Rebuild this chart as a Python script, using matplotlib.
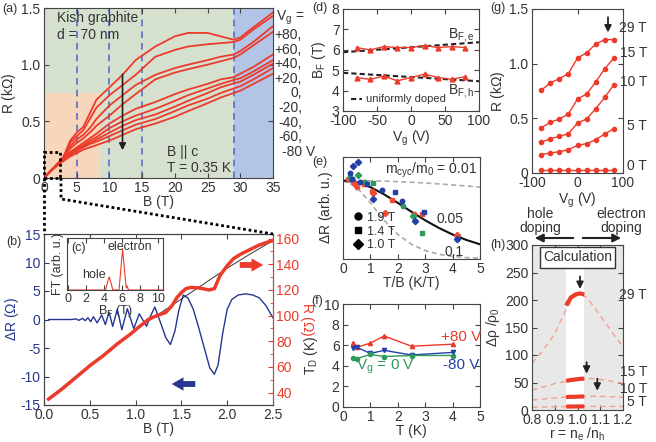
import numpy as np
import matplotlib
matplotlib.use('Agg')
import matplotlib.pyplot as plt
from matplotlib.lines import Line2D
from matplotlib.patches import Rectangle, FancyArrowPatch

plt.rcParams['font.family'] = ['Liberation Sans', 'DejaVu Sans']
plt.rcParams['font.size'] = 10
plt.rcParams['mathtext.default'] = 'regular'
plt.rcParams['axes.unicode_minus'] = False
plt.rcParams['xtick.direction'] = 'in'
plt.rcParams['ytick.direction'] = 'in'
plt.rcParams['xtick.top'] = True
plt.rcParams['ytick.right'] = True
plt.rcParams['xtick.major.pad'] = 2.5
plt.rcParams['ytick.major.pad'] = 2.5
plt.rcParams['axes.linewidth'] = 0.8
plt.rcParams['axes.edgecolor'] = '#444444'
plt.rcParams['text.color'] = '#333333'
plt.rcParams['axes.labelcolor'] = '#333333'
plt.rcParams['xtick.color'] = '#444444'
plt.rcParams['ytick.color'] = '#444444'
plt.rcParams['xtick.labelcolor'] = '#333333'
plt.rcParams['ytick.labelcolor'] = '#333333'

# ---- (a) R vs B for gate voltages +80 ... -80 V
B_a = [0, 1, 2, 3, 4, 5, 6, 7, 8, 10, 12, 14, 17, 20, 22, 25, 27, 29, 30, 32, 35]
R_a = [
    [0, .06, .12, .19, .33, .40, .45, .57, .69, .80, .91, 1.04, 1.16, 1.25, 1.28, 1.28, 1.25, 1.22, 1.24, 1.33, 1.46],
    [0, .06, .12, .19, .31, .37, .42, .52, .62, .73, .82, .91, 1.07, 1.13, 1.16, 1.18, 1.19, 1.20, 1.22, 1.31, 1.43],
    [0, .06, .12, .18, .28, .34, .38, .44, .52, .64, .73, .82, .91, .97, 1.00, 1.04, 1.07, 1.09, 1.12, 1.20, 1.34],
    [0, .06, .12, .18, .26, .31, .35, .40, .46, .55, .65, .74, .87, .93, .96, 1.00, 1.03, 1.06, 1.09, 1.17, 1.29],
    [0, .06, .12, .17, .23, .27, .31, .35, .39, .48, .55, .61, .67, .74, .78, .83, .87, .89, .92, .98, 1.09],
    [0, .06, .11, .17, .22, .26, .29, .33, .36, .44, .50, .55, .61, .68, .73, .79, .83, .865, .88, .94, 1.04],
    [0, .06, .11, .16, .21, .25, .28, .31, .34, .40, .46, .51, .56, .63, .68, .75, .80, .835, .85, .91, 1.01],
    [0, .06, .11, .16, .20, .24, .27, .30, .32, .37, .42, .47, .52, .59, .64, .70, .75, .79, .81, .87, .97],
    [0, .06, .11, .15, .19, .22, .25, .27, .29, .33, .38, .43, .48, .54, .59, .66, .71, .75, .77, .83, .92],
]
vg_labels = ['+80,', '+60,', '+40,', '+20,', '0,', '-20,', '-40,', '-60,']

# ---- (b) oscillations
B_osc = [0.05, 0.30, 0.35, 0.38, 0.42, 0.45, 0.48, 0.51, 0.54, 0.58, 0.63, 0.67, 0.71, 0.75, 0.80,
         0.85, 0.91, 0.98, 1.04, 1.12, 1.16, 1.21, 1.28, 1.33, 1.38, 1.43, 1.47, 1.52, 1.57, 1.63,
         1.69, 1.75, 1.81, 1.86, 1.90, 1.95, 2.00, 2.05, 2.12, 2.20, 2.28, 2.35, 2.42, 2.50]
dR_osc = [0, 0, 0.1, -0.15, 0.2, -0.2, 0.3, -0.4, 0.5, -0.6, 0.8, -0.9, 1.3, -1.2, 1.8,
          -1.8, 1.9, -1.6, 1.0, -1.2, 0.5, 2.2, -0.9, -3.2, -4.4, -2.0, 1.5, 4.3, 3.8, 1.8,
          -1.5, -5.0, -8.5, -9.6, -8.0, -2.5, 1.8, 3.5, 4.3, 4.5, 4.3, 3.8, 2.5, 0.3]
B_R = [0.05, 0.2, 0.35, 0.5, 0.65, 0.8, 0.95, 1.05, 1.15, 1.25, 1.33, 1.4, 1.45, 1.5, 1.55, 1.6,
       1.7, 1.8, 1.86, 1.92, 2.0, 2.07, 2.15, 2.25, 2.35, 2.43, 2.5]
R_b = [35, 43, 52, 61, 69, 78, 86, 92, 97.5, 100.5, 102.5, 108, 114, 118, 121, 122,
       121.5, 120, 121, 131, 139, 144.5, 148, 151.5, 155, 157, 158.5]
B_bg = [0.05, 0.25, 0.5, 0.75, 1.0, 1.25, 1.5, 1.75, 2.0, 2.25, 2.5]
R_bg = [35.5, 47, 61, 75, 89, 101, 113, 125, 137, 148, 158.5]

# ---- (c) Fourier transform
BF_c = [0, 4.2, 4.4, 4.6, 4.8, 5.0, 5.7, 5.9, 6.1, 6.3, 6.5, 6.6, 6.75, 10.6]
FT_c = [0, 0, 0.14, 0.25, 0.14, 0, 0, 0.4, 0.78, 0.4, 0.04, 0.08, 0, 0]

# ---- (d) Fermi fields vs gate
Vg = [-80, -60, -40, -20, 0, 20, 40, 60, 80]
BF_e = [6.11, 5.99, 6.16, 6.11, 6.11, 6.21, 6.11, 6.16, 6.11]
BF_h = [4.64, 4.55, 4.71, 4.48, 4.64, 4.81, 4.64, 4.55, 4.69]
uni_e = [5.88, 6.37]
uni_h = [4.87, 4.46]

# ---- (e) amplitude vs T/B
tb = [0, 0.5, 1, 1.5, 2, 2.5, 3, 3.5, 4, 4.5, 5]
m001 = [1, 0.999, 0.996, 0.992, 0.986, 0.978, 0.968, 0.957, 0.944, 0.931, 0.916]
m005 = [1, 0.978, 0.916, 0.824, 0.715, 0.602, 0.493, 0.396, 0.312, 0.243, 0.187]
m01 = [1, 0.916, 0.715, 0.493, 0.312, 0.187, 0.107, 0.060, 0.033, 0.018, 0.010]
red_e = [(0.2, 1.02, 'o'), (0.35, 1.0, 's'), (0.45, 0.95, 'D'), (0.5, 0.92, 'o'), (0.75, 0.96, 's'),
         (1.05, 0.87, 'o'), (1.1, 0.84, 'D'), (1.55, 0.59, 'D'), (1.8, 0.75, 's'), (2.6, 0.57, 'o'),
         (2.87, 0.57, 's'), (4.15, 0.3, 'D')]
green_e = [(0.26, 1.05, 's'), (0.56, 1.07, 'D'), (0.8, 0.98, 'o'), (1.11, 0.97, 's'), (2.2, 0.68, 'o'),
           (2.55, 0.55, 'D'), (2.87, 0.33, 's'), (4.15, 0.25, 'o')]
blue_e = [(0.38, 1.19, 'D'), (0.56, 1.23, 'D'), (0.26, 1.09, 'o'), (0.32, 1.02, 's'), (0.62, 0.98, 'o'),
          (0.86, 0.96, 's'), (1.11, 0.77, 'D'), (1.41, 0.88, 'o'), (1.9, 0.85, 's'), (2.14, 0.74, 'o'),
          (2.63, 0.48, 'D'), (2.94, 0.6, 's'), (4.15, 0.26, 'D')]

# ---- (f) Dingle temperature
T_f = [0.35, 0.5, 1.0, 1.5, 2.5, 4.0]
TD_p80 = [6.2, 5.8, 6.2, 6.9, 5.9, 6.1]
TD_m80 = [5.7, 5.8, 5.2, 5.5, 5.05, 5.3]
TD_0 = [4.8, 4.7, 5.1, 4.9, 5.0, 5.0]

# ---- (g) R vs Vg at fixed B
R_g = {
    '29 T': [0.756, 0.823, 0.863, 0.909, 1.052, 1.098, 1.180, 1.220, 1.220],
    '15 T': [0.412, 0.463, 0.494, 0.540, 0.677, 0.723, 0.832, 0.954, 1.052],
    '10 T': [0.280, 0.314, 0.335, 0.360, 0.457, 0.494, 0.588, 0.692, 0.808],
    '5 T': [0.168, 0.183, 0.195, 0.213, 0.253, 0.268, 0.305, 0.357, 0.405],
    '0 T': [0.03, 0.03, 0.03, 0.03, 0.03, 0.03, 0.03, 0.03, 0.03],
}

# ---- (h) calculation
r_h = [0.8, 0.85, 0.9, 0.95, 0.98, 1.01, 1.04, 1.08, 1.12, 1.16, 1.2]
calc_h = {
    '29 T': [85, 109, 139, 183, 203, 211, 205, 183, 160, 137, 115],
    '15 T': [36, 42, 48, 52, 55, 57, 57.6, 56.5, 54.5, 51.5, 48.5],
    '10 T': [18, 20, 22, 23.5, 24, 24.5, 25, 25, 24.5, 24, 23],
    '5 T': [5, 5.5, 6, 6.2, 6.4, 6.5, 6.5, 6.5, 6.5, 6.5, 6.5],
}
r_solid = [0.95, 0.97, 0.99, 1.01, 1.03]
solid_h = {
    '29 T': [190, 204, 210, 212, 210],
    '15 T': [53, 54.5, 55.5, 56.5, 57],
    '10 T': [23.5, 24, 24, 24.5, 24.5],
    '5 T': [6.2, 6.3, 6.4, 6.5, 6.5],
}

RED = '#ec3b2b'
NAVY = '#27368f'
GREEN = '#2f9a5c'
BLUE = '#2440a8'
DARK = '#333333'

W, H = 656, 442
fig = plt.figure(figsize=(W / 100, H / 100), dpi=100)


def box(x0, y0, x1, y1):
    return [x0 / W, 1 - y1 / H, (x1 - x0) / W, (y1 - y0) / H]


def fp(x, y):
    return (x / W, 1 - y / H)


def fig_arrow(p0, p1, color, style='-|>', lw=1.5):
    fig.add_artist(FancyArrowPatch(fp(*p0), fp(*p1), transform=fig.transFigure,
                                   arrowstyle=style, mutation_scale=12, lw=lw, color=color))


# ================= (a)
ax = fig.add_axes(box(44, 8, 273, 178))
ax.axvspan(0, 29, color='#d6e0cf', lw=0, zorder=0)
ax.axvspan(29, 35, color='#b3c5e6', lw=0, zorder=0)
ax.add_patch(Rectangle((0, 0), 8.5, 0.75, color='#f8d6bb', lw=0, zorder=0))
for b in [0, 5, 10, 15, 29]:
    ax.axvline(b, color='#5a6ec4', ls=(0, (4, 3)), lw=1.2, zorder=1)
for R in R_a:
    ax.plot(B_a, R, color=RED, lw=1.3, zorder=2)
ax.add_patch(Rectangle((0, 0), 2.5, 0.23, fill=False, ec='k', ls=(0, (1, 1)), lw=2, zorder=3,
                       clip_on=False))
ax.annotate('', xy=(12, 0.22), xytext=(12, 0.94),
            arrowprops=dict(arrowstyle='-|>', color='#222222', lw=1.2, mutation_scale=10))
ax.text(2, 1.47, 'Kish graphite\nd = 70 nm', va='top', fontsize=10)
ax.text(18.8, 0.29, 'B || c\nT = 0.35 K', va='top', fontsize=10)
ax.set_xlim(0, 35)
ax.set_ylim(0, 1.5)
ax.set_xticks(range(0, 36, 5))
ax.set_yticks([0, 0.5, 1.0, 1.5])
ax.set_yticklabels(['0', '0.5', '1.0', '1.5'])
ax.set_xlabel('B (T)', labelpad=0)
ax.set_ylabel('R (k$\\Omega$)', labelpad=2)

fig.text(*fp(276, 18), '$V_g$ =', va='center', ha='left')
for i, lab in enumerate(vg_labels):
    fig.text(*fp(302, 35 + i * 14.6), lab, va='center', ha='right')
fig.text(*fp(282, 152), '-80 V', va='center', ha='left')

# dotted connectors from zoom box to panel (b)
fig.add_artist(Line2D([44 / W, 44 / W], [1 - 178 / H, 1 - 234 / H], color='k', ls=(0, (1, 1)), lw=2))
fig.add_artist(Line2D([61 / W, 61 / W, 273 / W], [1 - 178 / H, 1 - 199 / H, 1 - 234 / H],
                      color='k', ls=(0, (1, 1)), lw=2))

# ================= (b)
axb = fig.add_axes(box(44, 234, 273, 405))
axb.plot(B_osc, dR_osc, color=NAVY, lw=1)
axb.set_xlim(0, 2.5)
axb.set_ylim(-15, 15)
axb.set_xticks([0, 0.5, 1.0, 1.5, 2.0, 2.5])
axb.set_xticklabels(['0.0', '0.5', '1.0', '1.5', '2.0', '2.5'])
axb.set_yticks(range(-15, 16, 5))
axb.tick_params(axis='y', colors=NAVY, labelcolor=NAVY, right=False)
axb.spines['left'].set_color(NAVY)
axb.set_xlabel('B (T)', labelpad=0)
axb.set_ylabel('$\\Delta$R ($\\Omega$)', color=NAVY, labelpad=0)

axb2 = axb.twinx()
axb2.plot(B_bg, R_bg, color=DARK, lw=0.7)
axb2.plot(B_R, R_b, color=RED, lw=2.5)
axb2.set_ylim(30.4, 163.6)
axb2.set_yticks(range(40, 161, 20))
axb2.set_yticks(range(40, 161, 10), minor=True)
axb2.tick_params(axis='y', which='both', colors=RED, labelcolor=RED, direction='in')
axb2.spines['right'].set_color(RED)
axb2.set_ylabel('R ($\\Omega$)', color=RED, rotation=270, labelpad=12)

simple = 'simple,head_length=0.7,head_width=0.8,tail_width=0.35'
fig_arrow((237, 265), (266, 265), RED, style=simple, lw=0)
fig_arrow((198, 384), (169, 384), NAVY, style=simple, lw=0)

# ================= (c) inset
axc = fig.add_axes(box(67, 238, 163, 290))
axc.plot(BF_c, FT_c, color=RED, lw=0.8)
axc.set_xlim(-0.1, 10.6)
axc.set_ylim(0, 1)
axc.set_xticks(range(0, 11, 2))
axc.set_yticks([])
axc.tick_params(labelsize=9, pad=2)
axc.set_xlabel('$B_F$ (T)', fontsize=9, labelpad=-1)
axc.set_ylabel('FT (arb. u.)', fontsize=9, labelpad=2)
axc.text(6.9, 0.82, 'electron', ha='center', va='center', fontsize=9)
axc.text(2.9, 0.29, 'hole', ha='center', va='center', fontsize=9)
axc.text(0.4, 0.8, '(c)', fontsize=9, va='center')

# ================= (d)
axd = fig.add_axes(box(343, 9, 479, 111))
axd.plot([-100, 100], uni_e, color='#222222', ls=(0, (2.5, 1.5)), lw=1.5)
axd.plot([-100, 100], uni_h, color='#222222', ls=(0, (2.5, 1.5)), lw=1.5)
axd.plot(Vg, BF_e, color=RED, marker='^', ms=3.5, lw=1)
axd.plot(Vg, BF_h, color=RED, marker='^', ms=3.5, lw=1)
axd.plot([-88, -72], [3.6, 3.6], color='#222222', ls=(0, (2.5, 1.5)), lw=1.5)
axd.text(-66, 3.6, 'uniformly doped', fontsize=8, va='center')
axd.text(55, 6.75, '$B_{F,e}$', fontsize=10, va='center')
axd.text(55, 4.0, '$B_{F,h}$', fontsize=10, va='center')
axd.set_xlim(-100, 100)
axd.set_ylim(3, 8)
axd.set_xticks([-100, -50, 0, 50, 100])
axd.set_yticks(range(3, 9))
axd.set_xlabel('$V_g$ (V)', labelpad=0)
axd.set_ylabel('$B_F$ (T)', labelpad=3)

# ================= (e)
axe = fig.add_axes(box(343, 157, 480, 259))
axe.plot(tb, m001, color='#aaaaaa', ls=(0, (3, 2)), lw=1.2)
axe.plot(tb, m01, color='#aaaaaa', ls=(0, (3, 2)), lw=1.2)
axe.plot(tb, m005, color='#111111', lw=1.5)
for pts, col in [(red_e, '#ef4a36'), (green_e, GREEN), (blue_e, BLUE)]:
    for x, y, mk in pts:
        axe.plot(x, y, marker=mk, color=col, ms=3.2, ls='')
axe.text(4.9, 1.13, '$m_{cyc}/m_0$ = 0.01', ha='right', va='center', fontsize=10)
axe.text(3.9, 0.51, '0.05', ha='center', va='center', fontsize=10)
axe.text(4.05, 0.09, '0.1', ha='center', va='center', fontsize=10)
hs = [Line2D([], [], marker=m, color='k', ls='', ms=5) for m in ['o', 's', 'D']]
axe.legend(hs, ['1.9 T', '1.4 T', '1.0 T'], loc='lower left', frameon=False, fontsize=9,
           handletextpad=0.1, labelspacing=0.15, borderaxespad=0.2, handlelength=1.2)
axe.set_xlim(0, 5)
axe.set_ylim(0, 1.3)
axe.set_yticks([])
axe.set_xticks(range(6))
axe.set_xlabel('T/B (K/T)', labelpad=0)
axe.set_ylabel('$\\Delta$R (arb. u.)', labelpad=6)

# ================= (f)
axf = fig.add_axes(box(343, 304, 480, 407))
axf.plot(T_f, TD_p80, color=RED, marker='^', ms=3, lw=1)
axf.plot(T_f, TD_m80, color=BLUE, marker='v', ms=3, lw=1)
axf.plot(T_f, TD_0, color=GREEN, marker='o', ms=3, lw=1)
axf.text(4.3, 6.8, '+80 V', color=RED, ha='center', va='center', fontsize=11)
axf.text(4.3, 4.1, '-80 V', color=BLUE, ha='center', va='center', fontsize=11)
axf.text(1.55, 3.9, '$V_g$ = 0 V', color=GREEN, ha='center', va='center', fontsize=11)
axf.set_xlim(0, 5)
axf.set_ylim(0, 10)
axf.set_xticks(range(6))
axf.set_yticks(range(0, 11, 2))
axf.set_xlabel('T (K)', labelpad=0)
axf.set_ylabel('$T_D$ (K)', labelpad=3)

# ================= (g)
axg = fig.add_axes(box(532, 9, 623, 173))
for k, vals in R_g.items():
    axg.plot(Vg, vals, color=RED, marker='o', ms=3, lw=1)
axg.annotate('', xy=(67, 1.26), xytext=(67, 1.45),
             arrowprops=dict(arrowstyle='-|>', color='#222222', lw=1.3, mutation_scale=10))
axg.set_xlim(-100, 100)
axg.set_ylim(0, 1.5)
axg.set_xticks([-100, 0, 100])
axg.set_yticks([0, 0.5, 1.0, 1.5])
axg.set_yticklabels(['0', '0.5', '1.0', '1.5'])
axg.set_xlabel('$V_g$ (V)', labelpad=0)
axg.set_ylabel('R (k$\\Omega$)', labelpad=2)
for lab, y in zip(R_g.keys(), [28, 53, 82, 126, 166]):
    fig.text(*fp(647, y), lab, ha='right', va='center')

# ================= (h)
axh = fig.add_axes(box(532, 245, 623, 410))
axh.axvspan(0.8, 0.95, color='#e8e8e8', lw=0, zorder=0)
axh.axvspan(1.028, 1.2, color='#e8e8e8', lw=0, zorder=0)
for k in calc_h:
    axh.plot(r_h, calc_h[k], color='#f4a08f', ls=(0, (4, 3)), lw=1)
    axh.plot(r_solid, solid_h[k], color=RED, lw=3, solid_capstyle='butt')
for x, y0, y1 in [(1.011, 248, 215), (1.04, 92, 61), (1.087, 62, 30)]:
    axh.annotate('', xy=(x, y1), xytext=(x, y0),
                 arrowprops=dict(arrowstyle='-|>', color='#222222', lw=1.3, mutation_scale=10))
axh.text(1.0, 278, 'Calculation', ha='center', va='center', fontsize=10,
         bbox=dict(boxstyle='square,pad=0.25', fc='white', ec=DARK, lw=1))
axh.set_xlim(0.8, 1.2)
axh.set_ylim(0, 300)
axh.set_xticks([0.8, 0.9, 1.0, 1.1, 1.2])
axh.set_yticks(range(0, 301, 50))
axh.set_xlabel('r = $n_e$ /$n_h$', labelpad=-1)
axh.set_ylabel('$\\Delta\\rho$ /$\\rho_0$', labelpad=2)
for lab, y in zip(calc_h.keys(), [295, 372, 389, 402]):
    fig.text(*fp(647, y), lab, ha='right', va='center')
fig.text(*fp(540, 221), 'hole\ndoping', ha='center', va='center', linespacing=1.0)
fig.text(*fp(621, 221), 'electron\ndoping', ha='center', va='center', linespacing=1.0)
fig_arrow((576, 238), (532, 238), '#222222')
fig_arrow((580, 238), (624, 238), '#222222')

# panel letters
for lab, x, y in [('(a)', 2, 9), ('(b)', 6, 242), ('(d)', 312, 8), ('(e)', 312, 162),
                  ('(f)', 311, 301), ('(g)', 490, 8), ('(h)', 490, 245)]:
    fig.text(*fp(x, y), lab, va='center', ha='left', fontsize=9)

fig.savefig('out.png', dpi=100)
